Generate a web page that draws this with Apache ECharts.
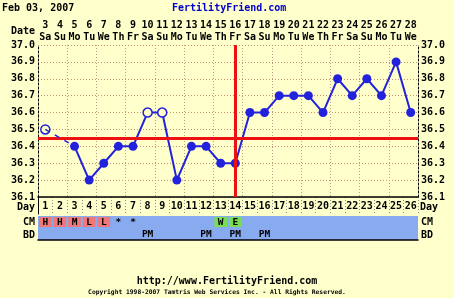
<!DOCTYPE html>
<html><head><meta charset="utf-8">
<script src="https://cdn.jsdelivr.net/npm/echarts@6/dist/echarts.min.js"></script>
<style>html,body{margin:0;padding:0;background:#ffffcc}#c{width:454px;height:298px}</style>
</head><body><div id="c"></div>
<script>
// ---- data ----
const cycleDays = ['1','2','3','4','5','6','7','8','9','10','11','12','13','14','15','16','17','18','19','20','21','22','23','24','25','26'];
const dates = ['3','4','5','6','7','8','9','10','11','12','13','14','15','16','17','18','19','20','21','22','23','24','25','26','27','28'];
const weekdays = ['Sa','Su','Mo','Tu','We','Th','Fr','Sa','Su','Mo','Tu','We','Th','Fr','Sa','Su','Mo','Tu','We','Th','Fr','Sa','Su','Mo','Tu','We'];
const temps = [36.5, null, 36.4, 36.2, 36.3, 36.4, 36.4, 36.6, 36.6, 36.2, 36.4, 36.4, 36.3, 36.3, 36.6, 36.6, 36.7, 36.7, 36.7, 36.6, 36.8, 36.7, 36.8, 36.7, 36.9, 36.6];
const discardedDays = [1, 8, 9];
const cmCodes = ['H','H','M','L','L','*','*','','','','','','W','E','','','','','','','','','','','',''];
const bdCodes = ['','','','','','','','PM','','','','PM','','PM','','PM','','','','','','','','','',''];
const tempTicks = ['36.1','36.2','36.3','36.4','36.5','36.6','36.7','36.8','36.9','37.0'];
const coverline = 36.45;
const ovulationDay = '14';
const chartDate = 'Feb 03, 2007';

// ---- styling ----
const FONT = 'DejaVu Sans Mono';
const BLUE = '#2222dd';
const BG = '#ffffcc';
const cellColors = {H:'#f07878', M:'#f07878', L:'#f07878', W:'#77dd55', E:'#77dd55'};

// dashed connector across missing temps
const gapData = temps.map(() => '-');
temps.forEach((t, i) => {
  if (t === null) {
    let a = i - 1, b = i + 1;
    while (a >= 0 && temps[a] === null) a--;
    while (b < temps.length && temps[b] === null) b++;
    if (a >= 0) gapData[a] = temps[a];
    if (b < temps.length) gapData[b] = temps[b];
  }
});

const tempData = temps.map((t, i) => {
  if (t === null) return '-';
  if (discardedDays.includes(i + 1)) {
    return {value: t, itemStyle: {color: BG, borderColor: BLUE, borderWidth: 1.5}};
  }
  return t;
});

const cells = [];
cmCodes.forEach((c, i) => { if (c) cells.push({value: [i, 0], text: c, fill: cellColors[c] || null}); });
bdCodes.forEach((c, i) => { if (c) cells.push({value: [i, 1], text: c, fill: null}); });

const txt = (text, x, y, align, extra) => ({
  type: 'text', x: x, y: y, silent: true,
  style: Object.assign({text: text, fill: '#000', fontFamily: FONT, fontWeight: 'bold', fontSize: 10, align: align, verticalAlign: 'middle'}, extra || {})
});

const dotted = (color) => ({show: true, lineStyle: {color: color, type: [1, 2], width: 1}});

const option = {
  backgroundColor: BG,
  animation: false,
  textStyle: {fontFamily: FONT},
  grid: [
    {left: 38, right: 36, top: 45, height: 152},
    {left: 38, right: 36, top: 197, height: 17},
    {left: 38, right: 36, top: 216, height: 24, show: true, backgroundColor: '#88aaee', borderWidth: 0}
  ],
  xAxis: [
    {gridIndex: 0, type: 'category', data: cycleDays, position: 'bottom',
      axisLine: {show: true, onZero: false, lineStyle: {color: '#000', width: 1.5}},
      axisTick: {show: false}, axisLabel: {show: false},
      splitLine: dotted('#b8a088')},
    {gridIndex: 0, type: 'category', data: dates, position: 'top',
      axisLine: {show: false}, axisTick: {show: false}, splitLine: {show: false},
      axisLabel: {interval: 0, margin: 2, color: '#000', fontFamily: FONT, fontWeight: 'bold', fontSize: 10, lineHeight: 12,
        formatter: (v, i) => v + '\n' + weekdays[i]}},
    {gridIndex: 1, type: 'category', data: cycleDays, position: 'bottom',
      axisLine: {show: false}, axisTick: {show: false},
      axisLabel: {inside: true, interval: 0, margin: 3, color: '#000', fontFamily: FONT, fontWeight: 'bold', fontSize: 10},
      splitLine: dotted('#888888')},
    {gridIndex: 2, type: 'category', data: cycleDays, position: 'bottom',
      axisLine: {show: true, onZero: false, lineStyle: {color: '#000', width: 1.5}},
      axisTick: {show: false}, axisLabel: {show: false}, splitLine: {show: false}}
  ],
  yAxis: [
    {gridIndex: 0, type: 'value', min: 36.1, max: 37.0, interval: 0.1, position: 'left',
      axisLine: {show: true, lineStyle: {color: '#000', type: [2, 2], width: 1}},
      axisTick: {show: false},
      axisLabel: {margin: 3, color: '#000', fontFamily: FONT, fontWeight: 'bold', fontSize: 10,
        formatter: v => tempTicks.find(t => Math.abs(parseFloat(t) - v) < 1e-6) || ''},
      splitLine: dotted('#c89078')},
    {gridIndex: 0, type: 'value', min: 36.1, max: 37.0, interval: 0.1, position: 'right',
      axisLine: {show: true, lineStyle: {color: '#000', type: [2, 2], width: 1}},
      axisTick: {show: false},
      axisLabel: {margin: 3, color: '#000', fontFamily: FONT, fontWeight: 'bold', fontSize: 10,
        formatter: v => tempTicks.find(t => Math.abs(parseFloat(t) - v) < 1e-6) || ''},
      splitLine: {show: false}},
    {gridIndex: 1, type: 'value', min: 0, max: 1, axisLabel: {show: false}, axisTick: {show: false},
      splitLine: {show: false}, axisLine: {show: true, lineStyle: {color: '#000', width: 1}}},
    {gridIndex: 2, type: 'category', data: ['CM', 'BD'], inverse: true,
      axisLine: {show: false}, axisTick: {show: false}, axisLabel: {show: false},
      splitLine: {show: true, showMinLine: false, showMaxLine: false, lineStyle: {color: '#000', type: [2, 2], width: 1}}}
  ],
  series: [
    {type: 'line', xAxisIndex: 0, yAxisIndex: 0, data: gapData, connectNulls: true, symbol: 'none',
      lineStyle: {color: BLUE, width: 1.5, type: [5, 6]}, z: 6},
    {type: 'line', xAxisIndex: 0, yAxisIndex: 0, data: tempData, connectNulls: false,
      symbol: 'circle', symbolSize: 9, itemStyle: {color: BLUE}, lineStyle: {color: BLUE, width: 2}, z: 4,
      markLine: {silent: true, symbol: 'none', label: {show: false}, animation: false,
        lineStyle: {color: '#ee1111', width: 3, type: 'solid'},
        data: [{yAxis: coverline}, {xAxis: ovulationDay}]}},
    {type: 'custom', xAxisIndex: 3, yAxisIndex: 3, data: cells, z: 5,
      renderItem: (params, api) => {
        const cell = cells[params.dataIndex];
        const p = api.coord([api.value(0), api.value(1)]);
        const s = api.size([1, 1]);
        const children = [];
        if (cell.fill) {
          children.push({type: 'rect', shape: {x: p[0] - s[0] / 2 + 1, y: p[1] - s[1] / 2 + 1, width: s[0] - 2, height: s[1] - 2},
            style: {fill: cell.fill}});
        }
        children.push({type: 'text', x: p[0], y: p[1] + 1,
          style: {text: cell.text, fill: '#000', fontFamily: FONT, fontWeight: 'bold', fontSize: 9.5, align: 'center', verticalAlign: 'middle'}});
        return {type: 'group', children: children};
      }}
  ],
  graphic: [
    txt(chartDate, 2, 8, 'left'),
    txt('FertilityFriend.com', 172, 8, 'left', {fill: '#0000cc'}),
    txt('Date', 35, 31, 'right'),
    txt('Day', 35, 207, 'right'),
    txt('CM', 35, 222, 'right'),
    txt('BD', 35, 235, 'right'),
    txt('Day', 420, 207, 'left'),
    txt('CM', 421, 222, 'left'),
    txt('BD', 421, 235, 'left'),
    txt('http://www.FertilityFriend.com', 227, 281, 'center'),
    txt('Copyright 1998-2007 Tamtris Web Services Inc. - All Rights Reserved.', 217, 292, 'center', {fontSize: 6.3})
  ]
};

const chart = echarts.init(document.getElementById('c'), null, {renderer: 'canvas'});
chart.setOption(option);
</script>
</body></html>
